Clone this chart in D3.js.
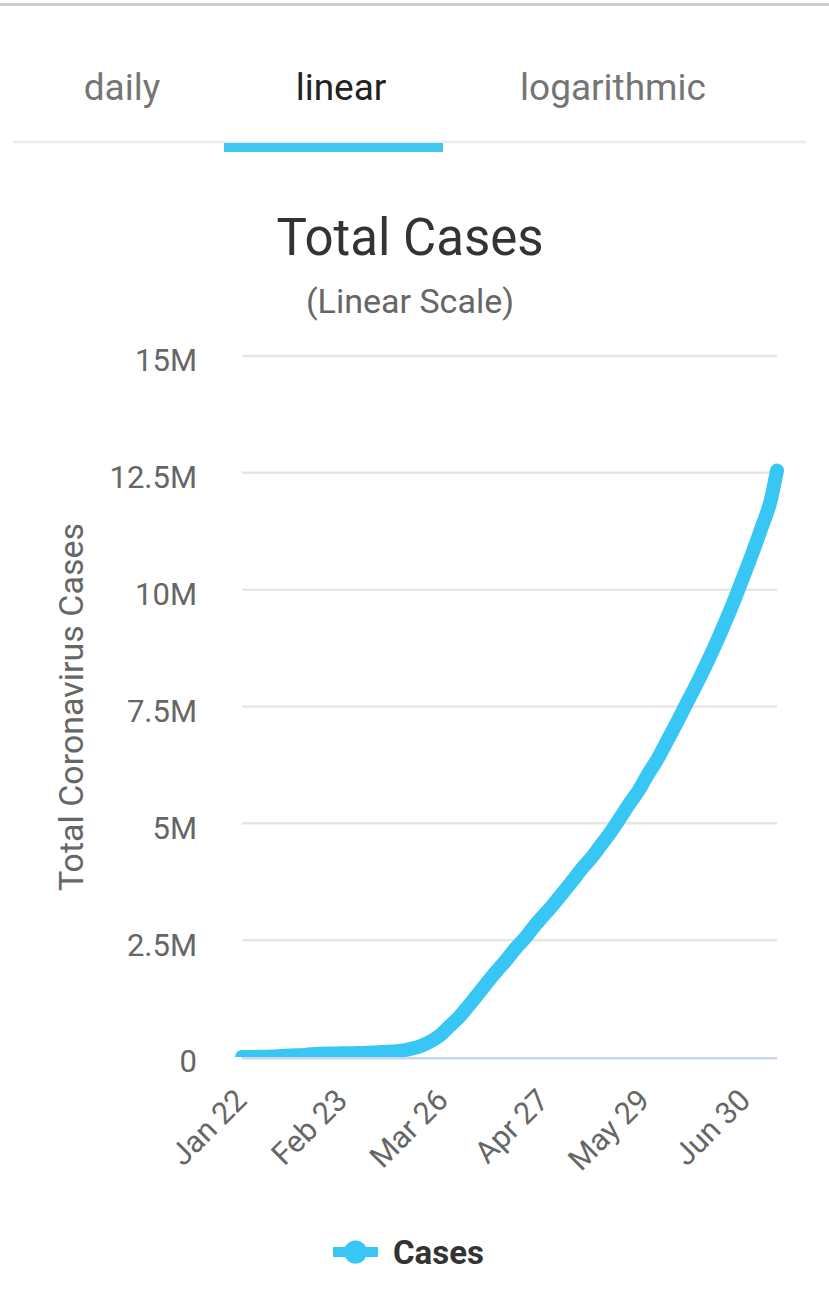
<!DOCTYPE html>
<html>
<head>
<meta charset="utf-8">
<script src="https://cdnjs.cloudflare.com/ajax/libs/d3/7.8.5/d3.min.js"></script>
<style>
  html, body { margin: 0; padding: 0; background: #fff; }
  svg { display: block; font-family: Roboto, "Noto Sans", sans-serif; }
</style>
</head>
<body>
<div id="chart"></div>
<script>
// tabs above the chart
var tabNames = ['daily', 'linear', 'logarithmic'];
var activeTab = 'linear';

// series: world total cases, 2020
var dates = ['2020-01-22', '2020-01-27', '2020-02-01', '2020-02-06', '2020-02-11', '2020-02-16',
  '2020-02-21', '2020-02-26', '2020-03-02', '2020-03-07', '2020-03-12', '2020-03-16',
  '2020-03-19', '2020-03-22', '2020-03-25', '2020-03-28', '2020-03-31', '2020-04-03',
  '2020-04-06', '2020-04-09', '2020-04-12', '2020-04-15', '2020-04-18', '2020-04-21',
  '2020-04-24', '2020-04-27', '2020-04-30', '2020-05-03', '2020-05-06', '2020-05-09',
  '2020-05-12', '2020-05-15', '2020-05-18', '2020-05-21', '2020-05-24', '2020-05-27',
  '2020-05-30', '2020-06-02', '2020-06-05', '2020-06-08', '2020-06-11', '2020-06-14',
  '2020-06-17', '2020-06-20', '2020-06-23', '2020-06-26', '2020-06-29', '2020-07-02',
  '2020-07-05', '2020-07-08', '2020-07-10'];
var cases = [580, 2900, 12000, 31000, 45000, 71000,
  77000, 82000, 90000, 106000, 128000, 182000,
  242000, 337000, 468000, 662000, 857000, 1096000,
  1345000, 1603000, 1846000, 2077000, 2330000, 2550000,
  2810000, 3040000, 3270000, 3520000, 3770000, 4030000,
  4260000, 4530000, 4800000, 5100000, 5410000, 5700000,
  6050000, 6370000, 6750000, 7130000, 7530000, 7920000,
  8330000, 8760000, 9220000, 9700000, 10220000, 10750000,
  11310000, 11910000, 12550000];

// axes
var xTickDates = ['2020-01-22', '2020-02-23', '2020-03-26', '2020-04-27', '2020-05-29', '2020-06-30'];
var xTickLabels = ['Jan 22', 'Feb 23', 'Mar 26', 'Apr 27', 'May 29', 'Jun 30'];
var yTicks = [0, 2500000, 5000000, 7500000, 10000000, 12500000, 15000000];
var yTickLabels = ['0', '2.5M', '5M', '7.5M', '10M', '12.5M', '15M'];

var width = 829, height = 1300;
var plot = { left: 242, right: 777, top: 356, bottom: 1057 };
var lineColor = '#38c6f4';

var parse = d3.utcParse('%Y-%m-%d');
var points = dates.map((d, i) => ({ date: parse(d), value: cases[i] }));

var svg = d3.select('#chart').append('svg')
  .attr('width', width)
  .attr('height', height);

svg.append('rect').attr('width', width).attr('height', height).attr('fill', '#fff');

// top bar + tabs
svg.append('rect').attr('x', 0).attr('y', 3).attr('width', width).attr('height', 3).attr('fill', '#cfcfcf');

var tabX = { daily: 122, linear: 341, logarithmic: 613 };
svg.selectAll('.tab')
  .data(tabNames)
  .enter().append('text')
    .attr('class', 'tab')
    .attr('x', d => tabX[d])
    .attr('y', 100)
    .attr('text-anchor', 'middle')
    .attr('font-size', 37)
    .attr('fill', d => d == activeTab ? '#222' : '#757575')
    .text(d => d);

svg.append('line')
  .attr('x1', 13).attr('x2', 806).attr('y1', 142).attr('y2', 142)
  .attr('stroke', '#ececec').attr('stroke-width', 2.5);
svg.append('rect')
  .attr('x', 224).attr('y', 143).attr('width', 219).attr('height', 9)
  .attr('fill', '#3ec8f0');

// titles
svg.append('text')
  .attr('x', 410).attr('y', 255)
  .attr('text-anchor', 'middle')
  .attr('font-size', 51)
  .attr('fill', '#333')
  .text('Total Cases');
svg.append('text')
  .attr('x', 410).attr('y', 313)
  .attr('text-anchor', 'middle')
  .attr('font-size', 34)
  .attr('fill', '#666')
  .text('(Linear Scale)');

var x = d3.scaleUtc()
  .domain([parse(dates[0]), parse(dates[dates.length - 1])])
  .range([plot.left, plot.right]);
var y = d3.scaleLinear()
  .domain([0, 15000000])
  .range([plot.bottom, plot.top]);

// grid
svg.append('g')
  .selectAll('line')
  .data(yTicks.slice(1))
  .enter().append('line')
    .attr('x1', plot.left).attr('x2', plot.right)
    .attr('y1', d => y(d)).attr('y2', d => y(d))
    .attr('stroke', '#e6e6e6').attr('stroke-width', 2.5);

// y axis
var yAxis = svg.append('g')
  .attr('transform', 'translate(' + plot.left + ',0)')
  .call(d3.axisLeft(y)
    .tickValues(yTicks)
    .tickSize(0)
    .tickPadding(45)
    .tickFormat((d, i) => yTickLabels[i]));
yAxis.select('.domain').remove();
yAxis.selectAll('text')
  .attr('font-size', 31)
  .attr('font-family', 'Roboto, sans-serif')
  .attr('fill', '#666')
  .attr('dy', '0.48em');

svg.append('text')
  .attr('transform', 'translate(83,707) rotate(-90)')
  .attr('text-anchor', 'middle')
  .attr('font-size', 34)
  .attr('fill', '#666')
  .text('Total Coronavirus Cases');

// x axis
var xAxis = svg.append('g')
  .attr('transform', 'translate(0,' + plot.bottom + ')')
  .call(d3.axisBottom(x)
    .tickValues(xTickDates.map(parse))
    .tickSize(0)
    .tickFormat((d, i) => xTickLabels[i]));
xAxis.select('.domain').remove();
xAxis.selectAll('text')
  .attr('x', 0).attr('y', 0).attr('dy', null)
  .attr('transform', 'translate(6,45) rotate(-45)')
  .attr('text-anchor', 'end')
  .attr('font-size', 30.5)
  .attr('font-family', 'Roboto, sans-serif')
  .attr('fill', '#666');

// series line, clipped at plot bottom
svg.append('clipPath')
  .attr('id', 'plot-clip')
  .append('rect')
    .attr('x', 0).attr('y', 0)
    .attr('width', width).attr('height', plot.bottom);

var line = d3.line()
  .x(d => x(d.date))
  .y(d => y(d.value))
  .curve(d3.curveMonotoneX);

svg.append('path')
  .datum(points)
  .attr('clip-path', 'url(#plot-clip)')
  .attr('d', line)
  .attr('fill', 'none')
  .attr('stroke', lineColor)
  .attr('stroke-width', 14)
  .attr('stroke-linecap', 'round')
  .attr('stroke-linejoin', 'round');

// baseline axis line
svg.append('line')
  .attr('x1', plot.left).attr('x2', plot.right)
  .attr('y1', plot.bottom + 1.2).attr('y2', plot.bottom + 1.2)
  .attr('stroke', '#ccd6eb').attr('stroke-width', 2.5);

// legend
var legend = svg.append('g').attr('transform', 'translate(333,1252)');
legend.append('line')
  .attr('x1', 0).attr('x2', 45).attr('y1', 0).attr('y2', 0)
  .attr('stroke', lineColor).attr('stroke-width', 10);
legend.append('circle')
  .attr('cx', 22.5).attr('cy', 0).attr('r', 11.5)
  .attr('fill', lineColor);
legend.append('text')
  .attr('x', 60).attr('y', 12)
  .attr('font-size', 33)
  .attr('font-weight', 'bold')
  .attr('fill', '#333')
  .text('Cases');
</script>
</body>
</html>
